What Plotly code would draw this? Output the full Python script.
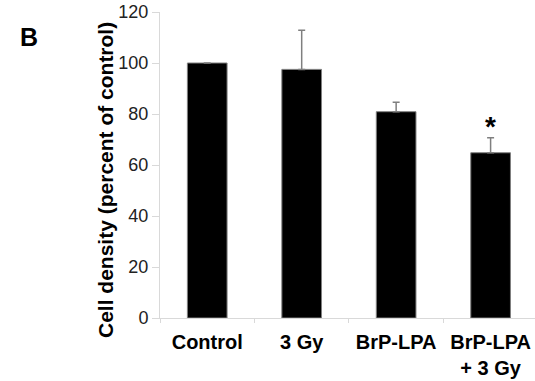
import plotly.graph_objects as go

categories = ["Control", "3 Gy", "BrP-LPA", "BrP-LPA<br>+ 3 Gy"]
values = [100, 97.5, 80.9, 64.8]
errors = [0, 15.3, 3.7, 5.9]
y_ticks = [0, 20, 40, 60, 80, 100, 120]

FONT = "Liberation Sans, Arial"
L, T, B_, W, H = 160, 12, 63, 535, 381
PW, PH = W - L, H - T - B_

fig = go.Figure()
fig.add_trace(go.Bar(
    x=categories, y=values,
    width=0.42,
    marker=dict(color="black", line=dict(color="#7f7f7f", width=1)),
    error_y=dict(type="data", array=errors, symmetric=False, arrayminus=[0]*4,
                 color="#7f7f7f", thickness=1.5, width=3.5, visible=True),
    hoverinfo="skip",
))

fig.add_annotation(x=categories[3], y=values[3] + errors[3], yref="y", xref="x",
                   text="<b>*</b>", showarrow=False, yanchor="bottom", yshift=-6,
                   font=dict(size=28, color="black", family=FONT))
fig.add_annotation(x=(105 - L) / PW, y=(H - B_ - 180) / PH, xref="paper", yref="paper",
                   xanchor="center", yanchor="middle",
                   text="<b>Cell density (percent of control)</b>", textangle=-90,
                   showarrow=False, font=dict(size=21, color="black", family=FONT))
fig.add_annotation(x=(29 - L) / PW, y=(H - B_ - 37) / PH, xref="paper", yref="paper",
                   xanchor="center", yanchor="middle", text="<b>B</b>", showarrow=False,
                   font=dict(size=25, color="black", family=FONT))

fig.update_layout(
    width=W, height=H,
    margin=dict(l=L, r=0, t=T, b=B_),
    paper_bgcolor="white", plot_bgcolor="white",
    showlegend=False,
    font=dict(family=FONT, color="black"),
    xaxis=dict(range=[-0.5, 3.47], showline=True, linecolor="#d9d9d9", linewidth=1,
               automargin=False,
               ticks="outside", tickson="boundaries", ticklen=4, tickcolor="#d9d9d9",
               ticklabelstandoff=6,
               tickfont=dict(size=20, color="black", weight="bold"), showgrid=False),
    yaxis=dict(range=[0, 120], tickvals=y_ticks, showline=True, linecolor="#d9d9d9", linewidth=1,
               automargin=False,
               ticks="outside", ticklen=7, tickcolor="#d9d9d9", showgrid=False, zeroline=False,
               tickfont=dict(size=18, color="#222222")),
)
fig.write_html("out.html", config={"displayModeBar": False},
               post_script="document.body.style.margin='0';document.body.style.overflow='hidden';")
